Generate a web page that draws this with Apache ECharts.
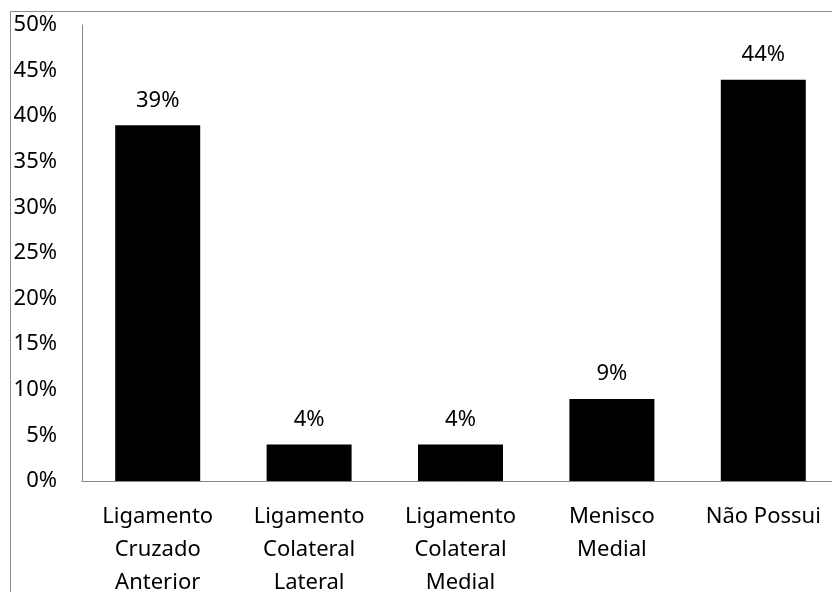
<!DOCTYPE html>
<html>
<head>
<meta charset="utf-8">
<script src="https://cdn.jsdelivr.net/npm/echarts@6/dist/echarts.min.js"></script>
<style>
  html, body { margin: 0; padding: 0; background: #fff; }
  #chart { width: 832px; height: 592px; }
</style>
</head>
<body>
<div id="chart"></div>
<script>
// categorias e valores (%)
const categories = [
  'Ligamento\nCruzado\nAnterior',
  'Ligamento\nColateral\nLateral',
  'Ligamento\nColateral\nMedial',
  'Menisco\nMedial',
  'Não Possui'
]
const values = [39, 4, 4, 9, 44]
const yMin = 0
const yMax = 50
const yStep = 5

const font = '"Noto Sans", "Open Sans", sans-serif'

const chart = echarts.init(document.getElementById('chart'))
chart.setOption({
  animation: false,
  textStyle: { fontFamily: font },
  graphic: [{
    type: 'rect',
    left: 8, top: 9,
    shape: { width: 900, height: 700 },
    style: { fill: 'none', stroke: '#8c8c8c', lineWidth: 1 },
    silent: true
  }],
  grid: { left: 82, top: 25, width: 757, height: 456, outerBoundsMode: 'none' },
  xAxis: {
    type: 'category',
    data: categories,
    axisLine: { lineStyle: { color: '#868686', width: 1 } },
    axisTick: { show: false },
    axisLabel: {
      color: '#000', fontSize: 22, lineHeight: 33, margin: 19,
      fontFamily: font, interval: 0
    }
  },
  yAxis: {
    type: 'value',
    min: yMin, max: yMax, interval: yStep,
    axisLine: { show: true, lineStyle: { color: '#868686', width: 1 } },
    axisTick: { show: false },
    splitLine: { show: false },
    axisLabel: {
      color: '#000', fontSize: 22, margin: 25, fontFamily: font,
      formatter: '{value}%'
    }
  },
  series: [{
    type: 'bar',
    data: values,
    barWidth: 85,
    itemStyle: { color: '#000' },
    label: {
      show: true, position: 'top', distance: 14,
      color: '#000', fontSize: 22, fontFamily: font,
      formatter: '{c}%'
    }
  }]
})
</script>
</body>
</html>
